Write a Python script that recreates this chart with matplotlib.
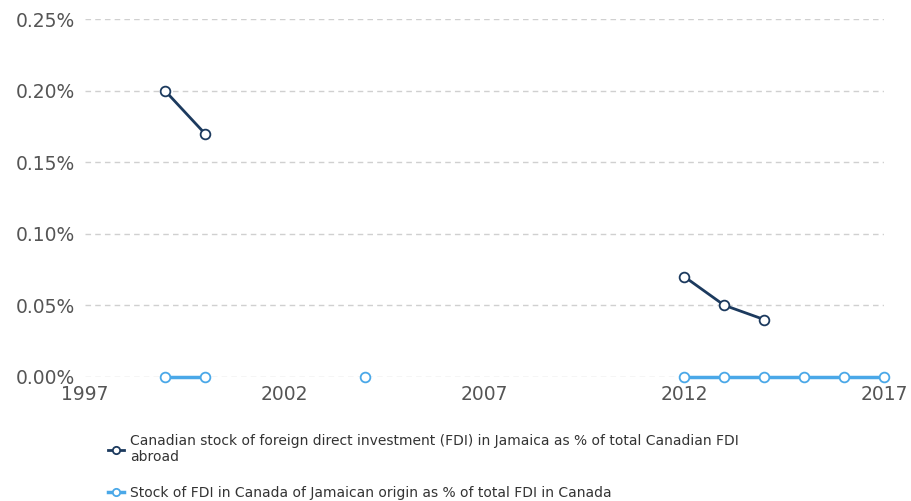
import numpy as np
import matplotlib.pyplot as plt
import matplotlib.ticker as mticker

years = list(range(1999, 2018))
# Canadian FDI in Jamaica as % of total Canadian FDI abroad (None = no data)
cdn_abroad = [0.20, 0.17, None, None, None, None, None, None, None, None,
              None, None, None, 0.07, 0.05, 0.04, None, None, None]
# Jamaican FDI in Canada as % of total FDI in Canada
jam_in_canada = [0.0, 0.0, None, None, None, 0.0, None, None, None, None,
                 None, None, None, 0.0, 0.0, 0.0, 0.0, 0.0, 0.0]

label_dark = "Canadian stock of foreign direct investment (FDI) in Jamaica as % of total Canadian FDI\nabroad"
label_light = "Stock of FDI in Canada of Jamaican origin as % of total FDI in Canada"

dark = '#1c3a5e'
light = '#4aa8e8'

def to_arr(vals):
    return np.array([np.nan if v is None else v for v in vals], dtype=float)

fig = plt.figure(figsize=(9.11, 5.01), dpi=100)
ax = fig.add_axes([0.0933, 0.248, 0.877, 0.714])

ax.plot(years, to_arr(cdn_abroad), color=dark, lw=2, marker='o', ms=7,
        mfc='white', mec=dark, mew=1.3, label=label_dark, zorder=3, clip_on=False)
ax.plot(years, to_arr(jam_in_canada), color=light, lw=2.5, marker='o', ms=7,
        mfc='white', mec=light, mew=1.3, label=label_light, zorder=3, clip_on=False)

ax.set_xlim(1997, 2017)
ax.set_ylim(0, 0.25)
ax.set_xticks([1997, 2002, 2007, 2012, 2017])
ax.set_yticks([0, 0.05, 0.10, 0.15, 0.20, 0.25])
ax.yaxis.set_major_formatter(mticker.FuncFormatter(lambda v, p: f"{v:.2f}%"))
ax.tick_params(length=0, labelsize=13.5, labelcolor='#555555')
ax.tick_params(axis='x', pad=6)
ax.tick_params(axis='y', pad=7)
ax.grid(axis='y', color='#d0d0d0', ls=(0, (4, 3)), lw=1)
ax.set_axisbelow(True)
for s in ax.spines.values():
    s.set_visible(False)

fig.legend(loc='upper left', bbox_to_anchor=(0.112, 0.145), frameon=False,
           fontsize=10, labelcolor='#333333', handlelength=1.2, handletextpad=0.4,
           labelspacing=1.6, markerscale=0.75, borderaxespad=0)

fig.savefig('out.png', dpi=100)
